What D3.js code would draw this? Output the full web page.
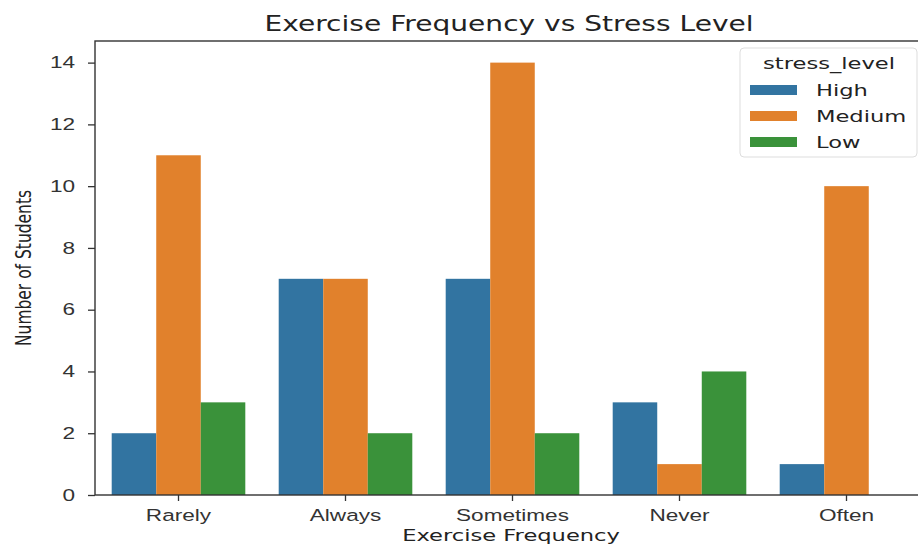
<!doctype html>
<html lang="en">
<head>
<meta charset="UTF-8">
<title>Exercise Frequency vs Stress Level</title>
<script src="https://cdnjs.cloudflare.com/ajax/libs/d3/7.8.5/d3.min.js"></script>
<style>
    body { margin: 0; background: #fff; }
    svg { display: block; font-family: "DejaVu Sans", sans-serif; }
    .tick text { fill: #333; }
</style>
</head>
<body>
<svg id="chart" width="918" height="546"></svg>
<script>
    // data
    var categories = ['Rarely', 'Always', 'Sometimes', 'Never', 'Often'];
    var levels = ['High', 'Medium', 'Low'];
    var high = [2, 7, 7, 3, 1];
    var medium = [11, 7, 14, 1, 10];
    var low = [3, 2, 2, 4, 0];
    var yTicks = [0, 2, 4, 6, 8, 10, 12, 14];

    var colors = ['#3274a1', '#e1812c', '#3a923a'];
    var series = [high, medium, low];

    // the source picture is stretched sideways, so text gets widened too
    var sx = 1.37;

    var svg = d3.select('#chart');

    // plot box (window.top is reserved, so use other names)
    var pLeft = 95, pRight = 930, pTop = 41, pBottom = 495;

    var x = d3.scaleBand()
        .domain(categories)
        .range([pLeft, pRight])
        .paddingInner(0.2)
        .paddingOuter(0.1);

    var x1 = d3.scaleBand()
        .domain(levels)
        .range([0, x.bandwidth()]);

    var y = d3.scaleLinear()
        .domain([0, 14.7])
        .range([pBottom, pTop]);

    // bars
    levels.forEach(function (lvl, k) {
        svg.append('g')
            .selectAll('rect')
            .data(series[k])
            .enter()
            .append('rect')
            .attr('x', function (d, i) { return x(categories[i]) + x1(lvl); })
            .attr('y', function (d) { return y(d); })
            .attr('width', x1.bandwidth())
            .attr('height', function (d) { return y(0) - y(d); })
            .attr('fill', colors[k]);
    });

    // axes
    var xAxis = svg.append('g')
        .attr('transform', 'translate(0,' + pBottom + ')')
        .call(d3.axisBottom(x).tickSizeOuter(0).tickSize(6).tickPadding(8));

    var yAxis = svg.append('g')
        .attr('transform', 'translate(' + pLeft + ',0)')
        .call(d3.axisLeft(y).tickValues(yTicks).tickSizeOuter(0).tickSize(7));

    [xAxis, yAxis].forEach(function (g) {
        g.select('.domain').remove();
        g.selectAll('.tick line').attr('stroke', '#333').attr('stroke-width', 1.3);
        g.selectAll('.tick text')
            .attr('font-size', '16.5px')
            .attr('transform', 'scale(' + sx + ',1)');
    });

    yAxis.selectAll('.tick text').attr('x', -20 / sx);

    // spines
    svg.append('rect')
        .attr('x', pLeft)
        .attr('y', pTop)
        .attr('width', pRight - pLeft)
        .attr('height', pBottom - pTop)
        .attr('fill', 'none')
        .attr('stroke', '#333')
        .attr('stroke-width', 1.4);

    // title and labels
    svg.append('text')
        .attr('transform', 'translate(509,31) scale(' + sx + ',1)')
        .attr('text-anchor', 'middle')
        .attr('font-size', '20.5px')
        .attr('fill', '#222')
        .text('Exercise Frequency vs Stress Level');

    svg.append('text')
        .attr('transform', 'translate(511,541) scale(' + sx + ',1)')
        .attr('text-anchor', 'middle')
        .attr('font-size', '16.5px')
        .attr('fill', '#222')
        .text('Exercise Frequency');

    svg.append('text')
        .attr('transform', 'translate(31,268) scale(' + sx + ',1) rotate(-90)')
        .attr('text-anchor', 'middle')
        .attr('font-size', '15.5px')
        .attr('fill', '#222')
        .text('Number of Students');

    // legend
    var lg = svg.append('g').attr('transform', 'translate(740,48)');

    lg.append('rect')
        .attr('width', 177)
        .attr('height', 109)
        .attr('rx', 4)
        .attr('fill', '#fff')
        .attr('fill-opacity', 0.8)
        .attr('stroke', '#ddd');

    lg.append('text')
        .attr('transform', 'translate(89,21) scale(' + sx + ',1)')
        .attr('text-anchor', 'middle')
        .attr('font-size', '16.5px')
        .attr('fill', '#222')
        .text('stress_level');

    levels.forEach(function (lvl, k) {
        lg.append('rect')
            .attr('x', 10)
            .attr('y', 37 + k * 26)
            .attr('width', 47)
            .attr('height', 10)
            .attr('fill', colors[k]);
        lg.append('text')
            .attr('transform', 'translate(76,' + (48 + k * 26) + ') scale(' + sx + ',1)')
            .attr('font-size', '16.5px')
            .attr('fill', '#222')
            .text(lvl);
    });
</script>
</body>
</html>
